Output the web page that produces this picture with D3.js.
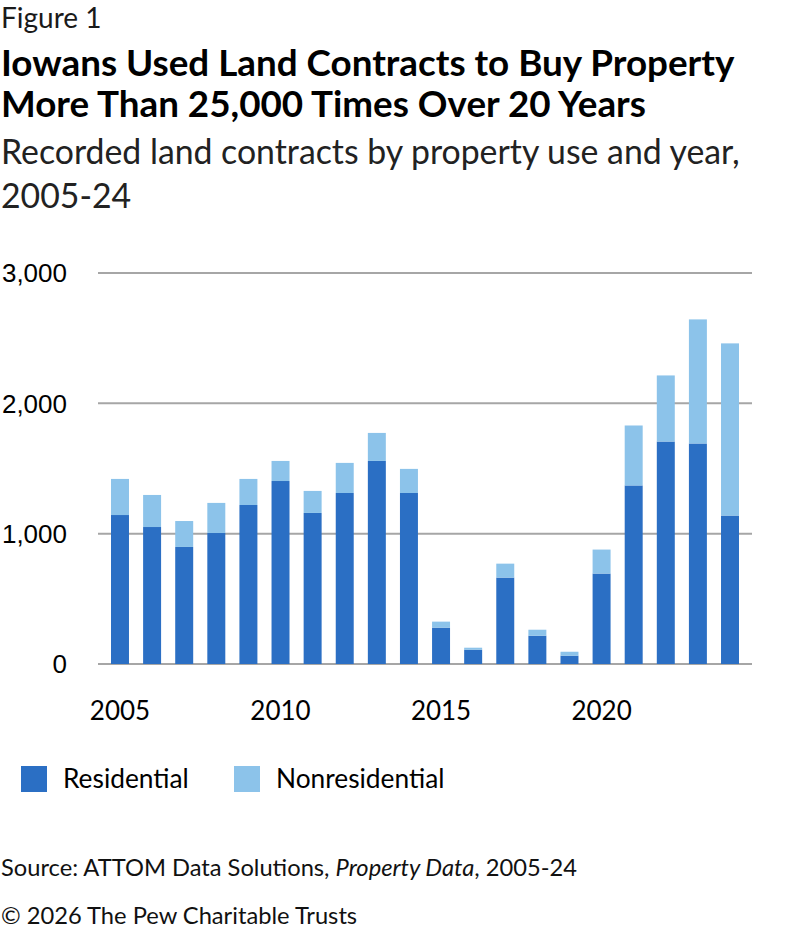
<!DOCTYPE html>
<html>
<head>
<meta charset="utf-8">
<script src="https://cdn.jsdelivr.net/npm/d3@7"></script>
<style>
  body { margin: 0; background: #fff; }
  svg { display: block; font-family: Lato, "Noto Sans", sans-serif; }
</style>
</head>
<body>
<div id="chart"></div>
<script>
// years on the x axis
const years = d3.range(2005, 2025).map(String);
// recorded land contracts, residential use
const residential = [1143, 1051, 898, 1005, 1220, 1404, 1159, 1312, 1558, 1312,
                     279, 110, 663, 217, 64, 694, 1370, 1707, 1692, 1139];
// recorded land contracts, nonresidential use
const nonresidential = [277, 246, 199, 231, 200, 154, 169, 231, 215, 185,
                        46, 15, 107, 46, 30, 184, 460, 507, 952, 1321];
const yTicks = [0, 1000, 2000, 3000];
const xTickYears = ["2005", "2010", "2015", "2020"];
const seriesNames = ["Residential", "Nonresidential"];
const seriesColors = ["#2b6fc4", "#8cc3ea"];

const width = 792, height = 934;

const svg = d3.select("#chart").append("svg")
    .attr("width", width)
    .attr("height", height);

// header text
svg.append("text")
    .attr("x", 1).attr("y", 28)
    .style("font-size", "28px")
    .style("fill", "#1a1a1a")
    .text("Figure 1");

const title = svg.append("text")
    .style("font-size", "36.8px")
    .style("font-weight", 700)
    .style("fill", "#000");
title.append("tspan").attr("x", 1).attr("y", 76)
    .text("Iowans Used Land Contracts to Buy Property");
title.append("tspan").attr("x", 1).attr("y", 117)
    .text("More Than 25,000 Times Over 20 Years");

const subtitle = svg.append("text")
    .style("font-size", "33.8px")
    .style("fill", "#222");
subtitle.append("tspan").attr("x", 1).attr("y", 164)
    .text("Recorded land contracts by property use and year,");
subtitle.append("tspan").attr("x", 1).attr("y", 208)
    .text("2005-24");

// stack the two series
const table = years.map((y, i) => ({
    year: y,
    Residential: residential[i],
    Nonresidential: nonresidential[i]
}));
const stacked = d3.stack().keys(seriesNames)(table);

const x = d3.scaleBand()
    .domain(years)
    .range([98, 752])
    .paddingInner(0.44)
    .paddingOuter(0.405);

const y = d3.scaleLinear()
    .domain([0, 3000])
    .range([664, 273]);

// gridlines
svg.append("g")
    .selectAll("line")
    .data(yTicks)
    .join("line")
    .attr("x1", 98)
    .attr("x2", 752)
    .attr("y1", d => y(d))
    .attr("y2", d => y(d))
    .attr("stroke", "#a6a6a6")
    .attr("stroke-width", 2);

// y labels
svg.append("g")
    .selectAll("text")
    .data(yTicks)
    .join("text")
    .attr("x", 67)
    .attr("y", d => y(d))
    .attr("dy", "0.36em")
    .attr("text-anchor", "end")
    .style("font-family", "'Liberation Sans', Arial, sans-serif")
    .style("font-size", "26px")
    .style("fill", "#000")
    .text(d => d3.format(",")(d));

// bars
svg.append("g")
    .selectAll("g")
    .data(stacked)
    .join("g")
    .attr("fill", (d, i) => seriesColors[i])
    .selectAll("rect")
    .data(d => d)
    .join("rect")
    .attr("x", d => x(d.data.year))
    .attr("width", x.bandwidth())
    .attr("y", d => y(d[1]))
    .attr("height", d => y(d[0]) - y(d[1]));

// x labels
svg.append("g")
    .selectAll("text")
    .data(xTickYears)
    .join("text")
    .attr("x", d => x(d) + x.bandwidth() / 2)
    .attr("y", 720)
    .attr("text-anchor", "middle")
    .style("font-size", "26px")
    .style("fill", "#000")
    .text(d => d);

// legend
const legendX = [21, 234];
const legend = svg.append("g")
    .selectAll("g")
    .data(seriesNames)
    .join("g")
    .attr("transform", (d, i) => `translate(${legendX[i]},766)`);
legend.append("rect")
    .attr("width", 26)
    .attr("height", 26)
    .attr("fill", (d, i) => seriesColors[i]);
legend.append("text")
    .attr("x", 42)
    .attr("y", 22)
    .style("font-size", "26.3px")
    .style("fill", "#000")
    .text(d => d);

// footer
const source = svg.append("text")
    .attr("x", 1).attr("y", 876)
    .style("font-size", "23.7px")
    .style("fill", "#111");
source.append("tspan").text("Source: ATTOM Data Solutions, ");
source.append("tspan").style("font-style", "italic").text("Property Data");
source.append("tspan").text(", 2005-24");

svg.append("text")
    .attr("x", 1).attr("y", 924)
    .style("font-size", "23.7px")
    .style("fill", "#111")
    .text("© 2026 The Pew Charitable Trusts");
</script>
</body>
</html>
